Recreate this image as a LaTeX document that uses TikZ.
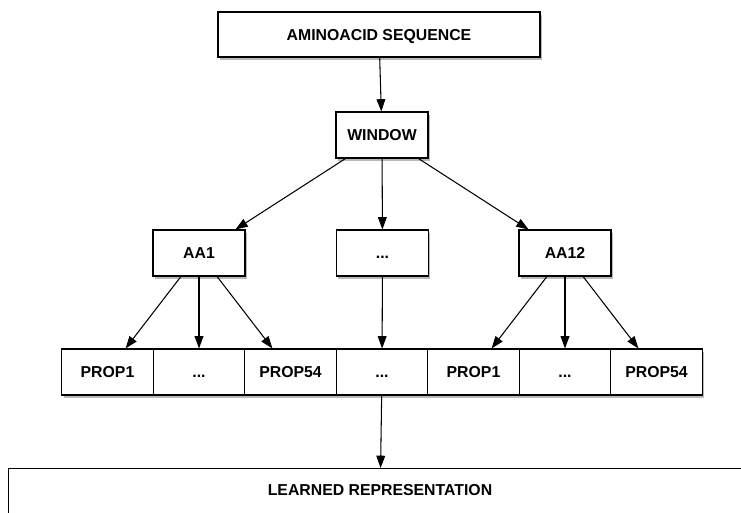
\documentclass[tikz,border=0pt]{standalone}
\usepackage{fontspec}
\setmainfont{Liberation Sans}
\usetikzlibrary{shadows,arrows.meta}

\tikzstyle{block}=[shape=rectangle,draw=black,fill=white,line width=0.9pt,
    drop shadow={opacity=0.55,shadow xshift=1.5pt,shadow yshift=-2.5pt},
    font=\bfseries\fontsize{13.5}{16}\selectfont,inner sep=0pt,
    text height=9.7pt,text depth=0pt,
    minimum width=2.76cm,minimum height=1.38cm]
\tikzstyle{cell}=[block,minimum width=2.745cm]

\begin{document}
\begin{tikzpicture}[x=0.03cm,y=-0.03cm,>={Triangle[length=10.5pt,width=7.5pt]},
    every edge/.style={draw,line width=0.9pt,black}]
        \clip (0,0) rectangle (741,513);
        % input
        \node[block,minimum width=9.66cm,minimum height=1.35cm] (seq) at (379,34.5) {AMINOACID SEQUENCE};
        \node[block] (win) at (382,135) {WINDOW}
            edge [<-] (seq);
        % aminoacids
        \node[block] (aa1) at (199,253) {AA1}
            edge [<-] (win);
        \node[block] (aamid) at (382.5,253) {...}
            edge [<-] (win);
        \node[block] (aa12) at (565,253) {AA12}
            edge [<-] (win);
        % properties
        \node[cell] (p1) at (107.5,372) {PROP1}
            edge [<-] (aa1);
        \node[cell] (p2) at (199,372) {...}
            edge [<-] (aa1);
        \node[cell] (p3) at (290.5,372) {PROP54}
            edge [<-] (aa1);
        \node[cell] (p4) at (382,372) {...}
            edge [<-] (aamid);
        \node[cell] (p5) at (473.5,372) {PROP1}
            edge [<-] (aa12);
        \node[cell] (p6) at (565,372) {...}
            edge [<-] (aa12);
        \node[cell] (p7) at (656.5,372) {PROP54}
            edge [<-] (aa12);
        % output
        \node[block,anchor=north,minimum width=22.3cm,minimum height=0pt,
            text height=0.81cm,text depth=1.5cm] (rep) at (380,468) {LEARNED REPRESENTATION}
            edge [<-] (p4);
\end{tikzpicture}
\end{document}
